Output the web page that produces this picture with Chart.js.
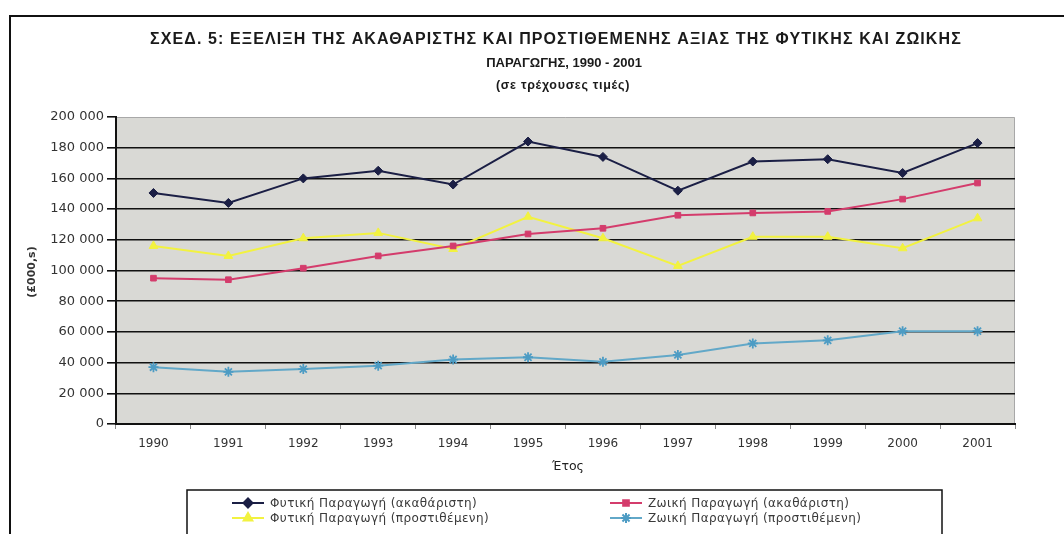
<!DOCTYPE html>
<html>
<head>
<meta charset="utf-8">
<script src="https://cdn.jsdelivr.net/npm/chart.js@4/dist/chart.umd.min.js"></script>
<style>
  html, body { margin: 0; padding: 0; background: #fff; }
  #wrap { width: 1064px; height: 534px; }
</style>
</head>
<body>
<div id="wrap"><canvas id="chart" width="1064" height="534"></canvas></div>
<script>
const years = ['1990','1991','1992','1993','1994','1995','1996','1997','1998','1999','2000','2001'];
const fytikiAkath = [150500, 144000, 160000, 165000, 156000, 184000, 174000, 152000, 171000, 172500, 163500, 183000];
const zoikiAkath  = [95000, 94000, 101500, 109500, 116000, 123800, 127500, 136000, 137500, 138500, 146500, 157000];
const fytikiProst = [116000, 109500, 121000, 124500, 114000, 135000, 121000, 103000, 122000, 122000, 114500, 134000];
const zoikiProst  = [37000, 34000, 35800, 38000, 42000, 43500, 40500, 45000, 52500, 54500, 60500, 60500];
const yTicks = [0, 20000, 40000, 60000, 80000, 100000, 120000, 140000, 160000, 180000, 200000];

const titleLines = [
  'ΣΧΕΔ. 5: ΕΞΕΛΙΞΗ ΤΗΣ ΑΚΑΘΑΡΙΣΤΗΣ ΚΑΙ ΠΡΟΣΤΙΘΕΜΕΝΗΣ ΑΞΙΑΣ ΤΗΣ ΦΥΤΙΚΗΣ ΚΑΙ ΖΩΙΚΗΣ',
  'ΠΑΡΑΓΩΓΗΣ, 1990 - 2001',
  '(σε τρέχουσες τιμές)'
];
const yTitle = '(£000,s)';
const xTitle = 'Έτος';

const FONT = '"DejaVu Sans", "Liberation Sans", sans-serif';

// spread a line of text so it spans a given width
function fitText(ctx, text, x, y, width) {
  ctx.letterSpacing = '0px';
  const w0 = ctx.measureText(text).width;
  const ls = Math.max(0, (width - w0) / text.length);
  ctx.letterSpacing = ls.toFixed(2) + 'px';
  ctx.fillText(text, x, y);
  ctx.letterSpacing = '0px';
}

// frame, title, axis titles and the boxed legend
const decor = {
  id: 'decor',
  beforeDraw(chart) {
    const {ctx, chartArea: a} = chart;
    ctx.save();
    ctx.fillStyle = '#d9d9d5';
    ctx.fillRect(a.left, a.top, a.right - a.left, a.bottom - a.top);
    ctx.strokeStyle = '#a8a8a8';
    ctx.lineWidth = 1;
    ctx.beginPath();
    ctx.moveTo(a.left, a.top + 0.5); ctx.lineTo(a.right - 0.5, a.top + 0.5); ctx.lineTo(a.right - 0.5, a.bottom);
    ctx.stroke();
    ctx.restore();
  },
  afterDraw(chart) {
    const ctx = chart.ctx;
    ctx.save();
    // outer frame
    ctx.strokeStyle = '#111';
    ctx.lineWidth = 2;
    ctx.beginPath();
    ctx.moveTo(10, 540); ctx.lineTo(10, 16); ctx.lineTo(1070, 16);
    ctx.stroke();

    // title
    ctx.fillStyle = '#1a1a1a';
    ctx.textAlign = 'center';
    ctx.textBaseline = 'middle';
    ctx.font = 'bold 16px "Liberation Sans", Arial, sans-serif';
    fitText(ctx, titleLines[0], 556, 40, 812);
    ctx.font = 'bold 13px "Liberation Sans", Arial, sans-serif';
    fitText(ctx, titleLines[1], 564, 63, 152);
    ctx.font = 'bold 12.5px "Liberation Sans", Arial, sans-serif';
    fitText(ctx, titleLines[2], 563, 86, 134);

    // y title
    ctx.save();
    ctx.translate(32, 272);
    ctx.rotate(-Math.PI / 2);
    ctx.font = 'bold 11px ' + FONT;
    ctx.fillStyle = '#333';
    ctx.fillText(yTitle, 0, 0);
    ctx.restore();

    // x title
    ctx.font = '12.5px ' + FONT;
    ctx.fillStyle = '#222';
    ctx.fillText(xTitle, 568, 467);

    // legend
    ctx.strokeStyle = '#111';
    ctx.lineWidth = 1.5;
    ctx.strokeRect(187, 490, 755, 60);
    const slots = [[232, 503], [610, 503], [232, 518], [610, 518]];
    ctx.textAlign = 'left';
    ctx.font = '12px ' + FONT;
    chart.data.datasets.forEach((ds, i) => {
      const [x, y] = slots[i];
      ctx.strokeStyle = ds.borderColor;
      ctx.lineWidth = 2;
      ctx.beginPath();
      ctx.moveTo(x, y); ctx.lineTo(x + 32, y);
      ctx.stroke();
      ctx.fillStyle = ds.pointBackgroundColor;
      ctx.strokeStyle = ds.pointBorderColor;
      Chart.helpers.drawPoint(ctx, {
        pointStyle: ds.pointStyle, radius: ds.pointRadius, rotation: 0, borderWidth: ds.pointBorderWidth
      }, x + 16, y);
      ctx.fillStyle = '#3a3a3a';
      ctx.letterSpacing = '0.4px';
      ctx.fillText(ds.label, x + 38, y + 1);
      ctx.letterSpacing = '0px';
    });
    ctx.restore();
  }
};

new Chart(document.getElementById('chart'), {
  type: 'line',
  data: {
    labels: years,
    datasets: [
      { label: 'Φυτική Παραγωγή (ακαθάριστη)', data: fytikiAkath,
        borderColor: '#1b1f45', pointBackgroundColor: '#1b1f45', pointBorderColor: '#1b1f45',
        pointStyle: 'rectRot', pointRadius: 4.5, pointBorderWidth: 1, borderWidth: 2 },
      { label: 'Ζωική Παραγωγή (ακαθάριστη)', data: zoikiAkath,
        borderColor: '#d43c6c', pointBackgroundColor: '#d43c6c', pointBorderColor: '#d43c6c',
        pointStyle: 'rect', pointRadius: 4, pointBorderWidth: 1, borderWidth: 2 },
      { label: 'Φυτική Παραγωγή (προστιθέμενη)', data: fytikiProst,
        borderColor: '#f2f240', pointBackgroundColor: '#f2f240', pointBorderColor: '#f2f240',
        pointStyle: 'triangle', pointRadius: 5, pointBorderWidth: 1, borderWidth: 2 },
      { label: 'Ζωική Παραγωγή (προστιθέμενη)', data: zoikiProst,
        borderColor: '#62a8c8', pointBackgroundColor: '#4d9cc4', pointBorderColor: '#4d9cc4',
        pointStyle: 'star', pointRadius: 5, pointBorderWidth: 1.8, borderWidth: 2 }
    ]
  },
  options: {
    responsive: false,
    animation: false,
    devicePixelRatio: 1,
    layout: { padding: { left: 0, top: 117, right: 49, bottom: 0 } },
    plugins: { legend: { display: false }, title: { display: false }, tooltip: { enabled: false } },
    elements: { line: { tension: 0 } },
    scales: {
      x: {
        offset: true,
        afterFit: s => { s.height = 110; },
        border: { color: '#111', width: 2 },
        grid: { drawOnChartArea: false, offset: true, tickLength: 5, color: '#888', tickColor: '#888' },
        ticks: { color: '#333', font: { family: FONT, size: 12 }, padding: 8, maxRotation: 0 }
      },
      y: {
        min: 0, max: 200000,
        afterFit: s => { s.width = 116; },
        afterBuildTicks: s => { s.ticks = yTicks.map(v => ({ value: v })); },
        border: { color: '#111', width: 2 },
        grid: {
          color: c => c.tick && c.tick.value === 200000 ? 'rgba(0,0,0,0)' : '#111',
          lineWidth: 1.6, tickLength: 9, tickColor: '#111'
        },
        ticks: {
          color: '#333', font: { family: FONT, size: 13 }, padding: 3,
          callback: v => v === 0 ? '0' : Math.floor(v / 1000) + ' ' + String(v % 1000).padStart(3, '0')
        }
      }
    }
  },
  plugins: [decor]
});
</script>
</body>
</html>
